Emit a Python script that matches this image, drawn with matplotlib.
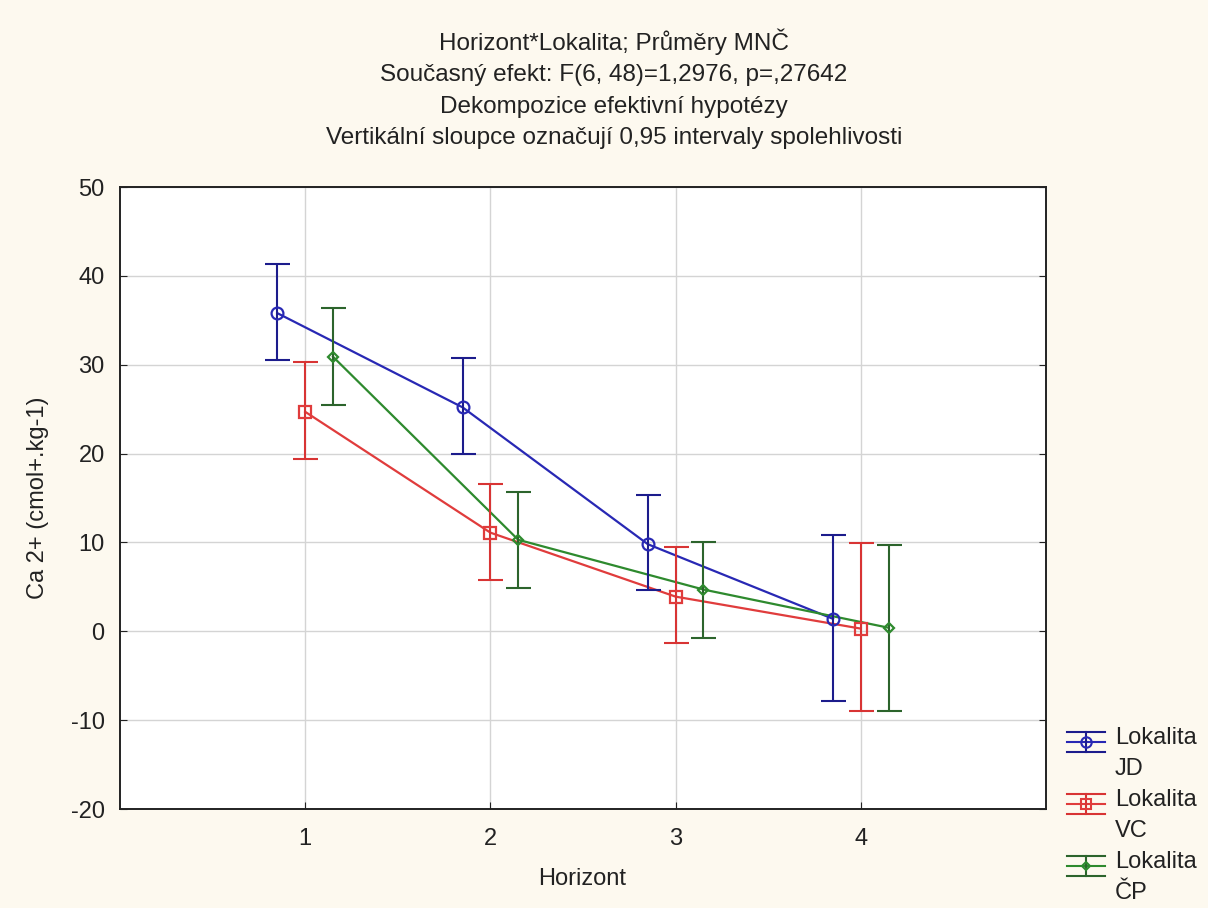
import matplotlib
matplotlib.use("Agg")
import matplotlib.pyplot as plt
from matplotlib.lines import Line2D
import numpy as np

plt.rcParams['font.family'] = ['Liberation Sans', 'DejaVu Sans']
plt.rcParams['axes.unicode_minus'] = False

horizont = [1, 2, 3, 4]
xtick_labels = ["1", "2", "3", "4"]
series_names = [("Lokalita", "JD"), ("Lokalita", "VC"), ("Lokalita", "ČP")]

jd_mean = [35.8, 25.2, 9.8, 1.4]
jd_low = [30.5, 19.9, 4.6, -7.9]
jd_high = [41.3, 30.7, 15.3, 10.8]

vc_mean = [24.7, 11.1, 3.9, 0.3]
vc_low = [19.4, 5.8, -1.3, -9.0]
vc_high = [30.3, 16.6, 9.5, 9.9]

cp_mean = [30.9, 10.3, 4.7, 0.4]
cp_low = [25.5, 4.9, -0.7, -9.0]
cp_high = [36.4, 15.7, 10.0, 9.7]

offsets = [-0.15, 0.0, 0.15]
line_colors = ['#2828b4', '#e03c3c', '#2e8a2e']
bar_colors = ['#1c1c8c', '#d83434', '#2c642c']
markers = ['o', 's', 'D']
msizes = [8.5, 8.5, 5.5]

W, H = 1208, 908
fig = plt.figure(figsize=(W/100, H/100), dpi=100, facecolor='#fdf9ef')
ax_l, ax_r, ax_t, ax_b = 120, 1046, 187, 809
ax = fig.add_axes([ax_l/W, 1 - ax_b/H, (ax_r-ax_l)/W, (ax_b-ax_t)/H])
ax.set_facecolor('white')

data = [(jd_mean, jd_low, jd_high), (vc_mean, vc_low, vc_high), (cp_mean, cp_low, cp_high)]
for i, (m, lo, hi) in enumerate(data):
    x = np.array(horizont) + offsets[i]
    m = np.array(m); lo = np.array(lo); hi = np.array(hi)
    ax.plot(x, m, color=line_colors[i], lw=1.6, zorder=3)
    ax.errorbar(x, m, yerr=[m - lo, hi - m], fmt='none',
                ecolor=bar_colors[i], elinewidth=1.5, capsize=9, capthick=1.5, zorder=4)
    ax.plot(x, m, ls='none', marker=markers[i], mfc='none', mec=line_colors[i],
            ms=msizes[i], mew=1.6, zorder=5)

ax.set_xlim(0, 5)
ax.set_ylim(-20, 50)
ax.set_xticks(horizont)
ax.set_xticklabels(xtick_labels)
ax.set_yticks(np.arange(-20, 51, 10))
ax.grid(True, color='#d4d4d4', lw=1)
ax.set_axisbelow(True)
for s in ax.spines.values():
    s.set_linewidth(1.4)
    s.set_color('#222222')
ax.tick_params(labelsize=17, length=5, direction='in', colors='#222222', right=True)
ax.tick_params(axis='x', pad=14)
ax.tick_params(axis='y', pad=11)
ax.set_xlabel("Horizont", fontsize=17, color='#222222')
ax.set_ylabel("Ca 2+ (cmol+.kg-1)", fontsize=17, color='#222222')
ax.xaxis.set_label_coords((582 - ax_l)/(ax_r - ax_l), (ax_b - 868)/(ax_b - ax_t))
ax.yaxis.set_label_coords((49 - ax_l)/(ax_r - ax_l), 0.5)

titles = ["Horizont*Lokalita; Průměry MNČ",
          "Současný efekt: F(6, 48)=1,2976, p=,27642",
          "Dekompozice efektivní hypotézy",
          "Vertikální sloupce označují 0,95 intervaly spolehlivosti"]
title_y = [42, 75, 107, 138]
for t, yy in zip(titles, title_y):
    fig.text(614/W, 1 - yy/H, t, ha='center', va='center', fontsize=17.5, color='#222222')

# legend (manual, figure pixel coordinates)
def fx(px):
    return px / W
def fy(py):
    return 1 - py / H

entry_y = [742, 804, 866]
for i, (l1, l2) in enumerate(series_names):
    yc = entry_y[i]
    x0, x1, xm = 1067, 1105, 1086
    for yy in (yc - 10, yc, yc + 10):
        c = line_colors[i] if yy == yc else bar_colors[i]
        fig.add_artist(Line2D([fx(x0), fx(x1)], [fy(yy), fy(yy)], color=c, lw=1.5))
    fig.add_artist(Line2D([fx(xm), fx(xm)], [fy(yc - 10), fy(yc + 10)], color=bar_colors[i], lw=1.5))
    fig.add_artist(Line2D([fx(xm)], [fy(yc)], marker=markers[i], mfc='none', mec=line_colors[i],
                          ms=msizes[i] - 1, mew=1.5, ls='none'))
    fig.text(fx(1115), fy(yc - 4), l1, ha='left', va='center', fontsize=17, color='#222222')
    fig.text(fx(1115), fy(yc + 27), l2, ha='left', va='center', fontsize=17, color='#222222')

fig.savefig("out.png", dpi=100, facecolor=fig.get_facecolor())
